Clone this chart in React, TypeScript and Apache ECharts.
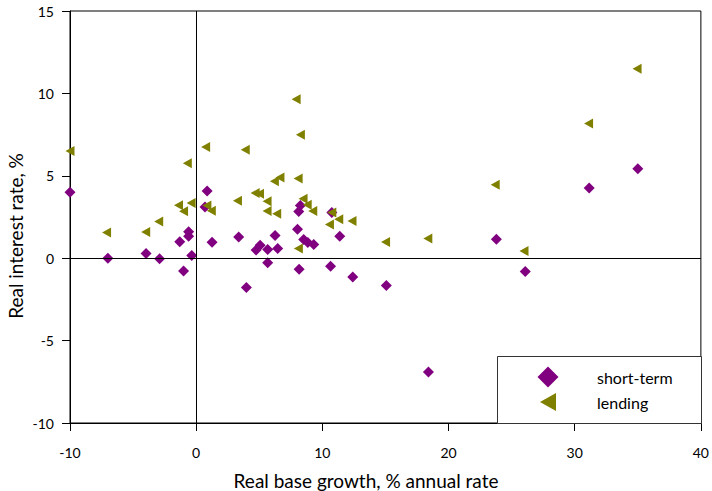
import React, { useEffect, useRef } from "react";
import * as echarts from "echarts";

const shortTermGrowth = [-10, 0.87, 0.7, -0.6, -0.6, -1.3, 1.26, 3.37, -3.97, -7.0, -2.9, -0.35, -1.0, 8.26, 8.13, 10.75, 8.03, 6.25, 11.38, 5.07, 4.75, 5.67, 6.46, 8.52, 8.85, 9.32, 5.67, 8.16, 10.65, 12.41, 3.98, 15.07, 35.0, 31.15, 23.79, 26.08, 18.41];
const shortTermRate = [4.0, 4.08, 3.1, 1.6, 1.33, 1.0, 0.97, 1.29, 0.29, 0, -0.04, 0.16, -0.77, 3.2, 2.83, 2.78, 1.76, 1.37, 1.33, 0.78, 0.49, 0.53, 0.59, 1.13, 0.95, 0.83, -0.28, -0.67, -0.49, -1.14, -1.78, -1.66, 5.43, 4.26, 1.15, -0.81, -6.9];

const lendingGrowth = [-10, 0.75, -0.7, -1.4, -1.0, -0.4, 0.85, 1.2, 3.27, -2.97, -4.0, -7.1, 7.92, 8.26, 3.89, 6.64, 6.2, 8.08, 4.67, 5.02, 5.62, 5.62, 6.38, 8.47, 8.8, 9.24, 10.75, 11.3, 12.35, 10.56, 15.01, 8.1, 34.94, 31.1, 23.7, 18.36, 25.98];
const lendingRate = [6.5, 6.75, 5.76, 3.21, 2.85, 3.35, 3.2, 2.88, 3.48, 2.23, 1.59, 1.56, 9.65, 7.49, 6.58, 4.9, 4.67, 4.83, 3.95, 3.91, 3.45, 2.87, 2.7, 3.61, 3.25, 2.87, 2.78, 2.36, 2.26, 2.05, 0.98, 0.59, 11.49, 8.17, 4.45, 1.19, 0.43];

const seriesNames = ["short-term", "lending"];
const xTitle = "Real base growth, % annual rate";
const yTitle = "Real interest rate, %";

const FONT = "Lato, 'Noto Sans', sans-serif";
const PURPLE = "#800080";
const OLIVE = "#808000";

export default function App() {
  const ref = useRef<HTMLDivElement>(null);
  useEffect(() => {
    if (!ref.current) return;
    const chart = echarts.init(ref.current, undefined, { renderer: "svg" });
    const zip = (xs: number[], ys: number[]) => xs.map((x, i) => [x, ys[i]]);
    chart.setOption({
      animation: false,
      backgroundColor: "#fff",
      textStyle: { fontFamily: FONT },
      grid: {
        left: 70,
        top: 11,
        right: 11,
        bottom: 68,
        show: true,
        borderColor: "#000",
        borderWidth: 1,
        backgroundColor: "transparent",
      },
      xAxis: {
        type: "value",
        min: -10,
        max: 40,
        interval: 10,
        axisLine: { show: true, onZero: false, lineStyle: { color: "#000", width: 1 } },
        axisTick: { show: true, inside: false, length: 8, lineStyle: { color: "#000" } },
        splitLine: { show: false },
        axisLabel: { color: "#000", fontSize: 14, margin: 22, fontFamily: FONT },
      },
      yAxis: {
        type: "value",
        min: -10,
        max: 15,
        interval: 5,
        axisLine: { show: true, onZero: false, lineStyle: { color: "#000", width: 1 } },
        axisTick: { show: true, inside: false, length: 8, lineStyle: { color: "#000" } },
        splitLine: { show: false },
        axisLabel: { color: "#000", fontSize: 14, margin: 16, fontFamily: FONT },
      },
      legend: {
        orient: "vertical",
        left: 532,
        top: 361,
        itemWidth: 22,
        itemHeight: 22,
        itemGap: 3,
        z: 10,
        textStyle: { fontSize: 16, color: "#000", fontFamily: FONT, padding: [0, 0, 0, 33] },
        data: [
          { name: seriesNames[0], icon: "path://M0,0 M22,22 M11,0.5 L21.5,11 L11,21.5 L0.5,11 Z" },
          { name: seriesNames[1], icon: "path://M0,0 M22,22 M19,2 L19,20 L3,11 Z" },
        ],
      },
      graphic: [
        {
          type: "rect",
          z: 5,
          shape: { x: 497.5, y: 356.5, width: 204, height: 67 },
          style: { fill: "#fff", stroke: "#333", lineWidth: 1 },
        },
        {
          type: "text",
          x: 366,
          y: 480,
          style: { text: xTitle, fill: "#000", font: `19px ${FONT}`, align: "center", verticalAlign: "middle" },
        },
        {
          type: "text",
          x: 15,
          y: 236,
          rotation: Math.PI / 2,
          style: { text: yTitle, fill: "#000", font: `19px ${FONT}`, align: "center", verticalAlign: "middle" },
        },
      ],
      series: [
        {
          type: "scatter",
          name: "zero-lines",
          data: [],
          z: 1,
          silent: true,
          markLine: {
            silent: true,
            symbol: "none",
            label: { show: false },
            lineStyle: { color: "#000", width: 1, type: "solid" },
            data: [{ yAxis: 0 }, { xAxis: 0 }],
          },
        },
        {
          type: "scatter",
          name: seriesNames[0],
          symbol: "diamond",
          symbolSize: 11,
          z: 3,
          itemStyle: { color: PURPLE, opacity: 1 },
          data: zip(shortTermGrowth, shortTermRate),
        },
        {
          type: "scatter",
          name: seriesNames[1],
          symbol: "triangle",
          symbolRotate: 90,
          symbolSize: [10, 9],
          z: 4,
          itemStyle: { color: OLIVE, opacity: 1 },
          data: zip(lendingGrowth, lendingRate),
        },
      ],
    });
    return () => chart.dispose();
  }, []);
  return <div ref={ref} style={{ position: "fixed", left: 0, top: 0, width: 712, height: 491 }} />;
}
